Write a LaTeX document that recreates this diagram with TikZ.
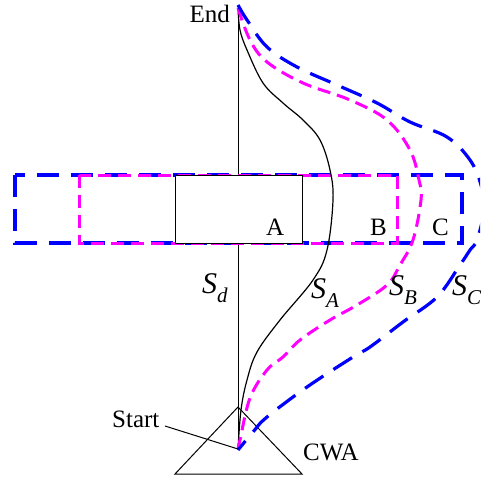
\documentclass[tikz,border=0pt]{standalone}
\usepackage{fontspec}
\setmainfont{Liberation Serif}
\definecolor{mymag}{RGB}{255,0,255}
\definecolor{myblue}{RGB}{0,0,255}
\newcommand{\slab}[2]{\fontsize{30}{30}\selectfont\textit{#1}\raisebox{-9pt}{\fontsize{21}{21}\selectfont\textit{#2}}}
\begin{document}
\begin{tikzpicture}[x=1pt,y=-1pt,
  txt/.style={inner sep=0pt,font=\fontsize{25}{25}\selectfont},
  thin line/.style={black,line width=1pt},
  bluedash/.style={myblue,line width=3.2pt,dash pattern=on 22pt off 12pt},
  magdash/.style={mymag,line width=3pt,dash pattern=on 13pt off 7pt},
  curveA/.style={black,line width=1.2pt}]
\useasboundingbox (0,0) rectangle (480,481);
\clip (0,0) rectangle (480,481);
\coordinate (top) at (238,8);
\coordinate (start) at (238,449);
% vertical line
\draw[thin line] (top) -- (start);
% dashed rectangles
\draw[bluedash] (15,175) rectangle (462,243);
\draw[magdash] (79,175) rectangle (397,243);
% box A
\node[draw,thin line,fill=white,minimum width=127pt,minimum height=68pt,inner sep=0pt,anchor=north west] (boxA) at (175,175) {};
% triangle
\draw[thin line] (238,407) -- (302,474) -- (175,474) -- cycle;
% curves
\draw[curveA] plot[smooth,tension=0.6] coordinates {(238,8) (240,30) (247,50) (263,83) (283,103) (303,120) (320,140) (330,170) (333,200) (327,250) (313,280) (280,320) (257,352) (247,380) (241,410) (238,449)};
\draw[magdash] plot[smooth,tension=0.6] coordinates {(238,8) (250,40) (267,62) (303,83) (350,100) (387,120) (410,150) (419,180) (421,200) (413,240) (400,265) (387,285) (357,305) (330,320) (300,340) (283,357) (267,370) (250,398) (240,440) (238,449)};
\draw[bluedash] plot[smooth,tension=0.6] coordinates {(238,5) (247,20) (267,47) (297,67) (337,85) (377,103) (410,122) (447,137) (470,160) (481,185) (484,210) (477,240) (470,250) (460,265) (437,297) (403,322) (370,347) (353,357) (307,387) (267,417) (253,432) (238,450)};
% labels
\node[txt,anchor=base east] (lend) at (230,23) {End};
\node[txt,anchor=base west] (lA) at (266,235) {A};
\node[txt,anchor=base west] (lB) at (370,235) {B};
\node[txt,anchor=base west] (lC) at (432,235) {C};
\node[txt,anchor=base west] (lstart) at (112,427) {Start};
\node[txt,anchor=base west] (lcwa) at (303,460) {CWA};
\node[inner sep=0pt,anchor=base west] (sd) at (202,293) {\slab{S}{d}};
\node[inner sep=0pt,anchor=base west] (sa) at (311,298) {\slab{S}{A}};
\node[inner sep=0pt,anchor=base west] (sb) at (389,295) {\slab{S}{B}};
\node[inner sep=0pt,anchor=base west] (sc) at (452,295) {\slab{S}{C}};
\coordinate (leadstart) at (165,426);
\draw[thin line] (leadstart) -- (start);
\end{tikzpicture}
\end{document}
